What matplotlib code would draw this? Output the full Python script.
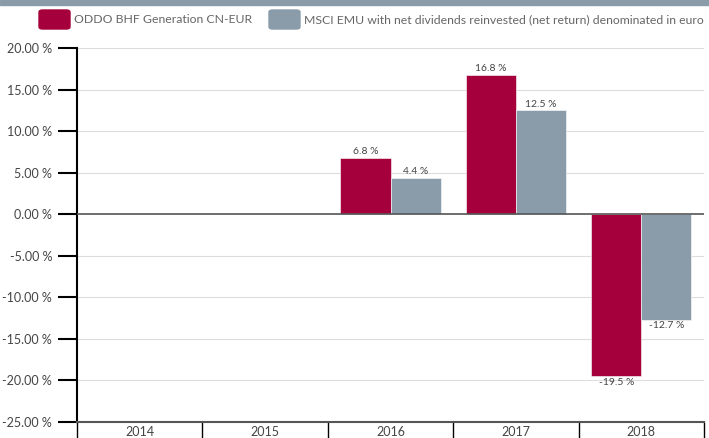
import numpy as np
import matplotlib.pyplot as plt
from matplotlib.patches import FancyBboxPatch, Rectangle

years = ['2014', '2015', '2016', '2017', '2018']
fund = [np.nan, np.nan, 6.8, 16.8, -19.5]
index = [np.nan, np.nan, 4.4, 12.5, -12.7]
fund_name = 'ODDO BHF Generation CN-EUR'
index_name = 'MSCI EMU with net dividends reinvested (net return) denominated in euro'

RED = '#a6003c'
GREY = '#8a9ca9'
TXT = '#444444'

plt.rcParams['font.family'] = ['Lato', 'DejaVu Sans']

W, H = 709, 438
fig = plt.figure(figsize=(W / 100, H / 100), dpi=100)
ax = fig.add_axes([77 / W, 1 - 422 / H, (704 - 77) / W, (422 - 48) / H])

x = np.arange(len(years))
bw = 0.4
b1 = ax.bar(x - bw / 2, fund, bw, color=RED, edgecolor='white', linewidth=0.4, zorder=3)
b2 = ax.bar(x + bw / 2, index, bw, color=GREY, edgecolor='white', linewidth=0.4, zorder=3)

for bars, vals in ((b1, fund), (b2, index)):
    for rect, v in zip(bars, vals):
        if np.isnan(v):
            continue
        cx = rect.get_x() + rect.get_width() / 2
        if v >= 0:
            ax.annotate(f'{v:.1f} %', (cx, v), xytext=(0, 1), textcoords='offset points',
                        ha='center', va='bottom', fontsize=7.5, color=TXT)
        else:
            ax.annotate(f'{v:.1f} %', (cx, v), xytext=(0, -1), textcoords='offset points',
                        ha='center', va='top', fontsize=7.5, color=TXT)

ax.set_xlim(-0.5, len(years) - 0.5)
ax.set_ylim(-25, 20)
yt = np.arange(-25, 21, 5)
ax.set_yticks(yt)
ax.set_yticklabels([f'{v:.2f} %' for v in yt], fontsize=9, color=TXT)
ax.tick_params(axis='y', length=14, width=1.5, color='black', pad=4)

for v in yt:
    if v in (0, -25):
        continue
    ax.axhline(v, color='#dddddd', linewidth=0.8, zorder=1)
ax.axhline(0, color='#555555', linewidth=1.2, zorder=4)

ax.set_xticks(x)
ax.set_xticklabels(years, fontsize=9, color=TXT)
ax.set_xticks(np.arange(-0.5, len(years), 1), minor=True)
ax.tick_params(axis='x', which='major', length=0, pad=3)
ax.tick_params(axis='x', which='minor', length=16, width=1, color='black')

for s in ('top', 'right'):
    ax.spines[s].set_visible(False)
ax.spines['left'].set_linewidth(1.5)
ax.spines['bottom'].set_color('#555555')
ax.spines['bottom'].set_linewidth(1.5)

# top band and legend
fig.patches.append(Rectangle((0, 1 - 4.5 / H), 1, 4.5 / H, transform=fig.transFigure,
                             color=GREY, zorder=0))
for x0, col, label in ((39, RED, fund_name), (269, GREY, index_name)):
    fig.patches.append(FancyBboxPatch((x0 / W, 1 - 29 / H), 31 / W, 19 / H,
                                      boxstyle='round,pad=0,rounding_size=0.005',
                                      transform=fig.transFigure, color=col))
    fig.text((x0 + 35) / W, 1 - 19.5 / H, label, fontsize=8.8, color='#666666',
             ha='left', va='center')

fig.savefig('out.png', dpi=100)
